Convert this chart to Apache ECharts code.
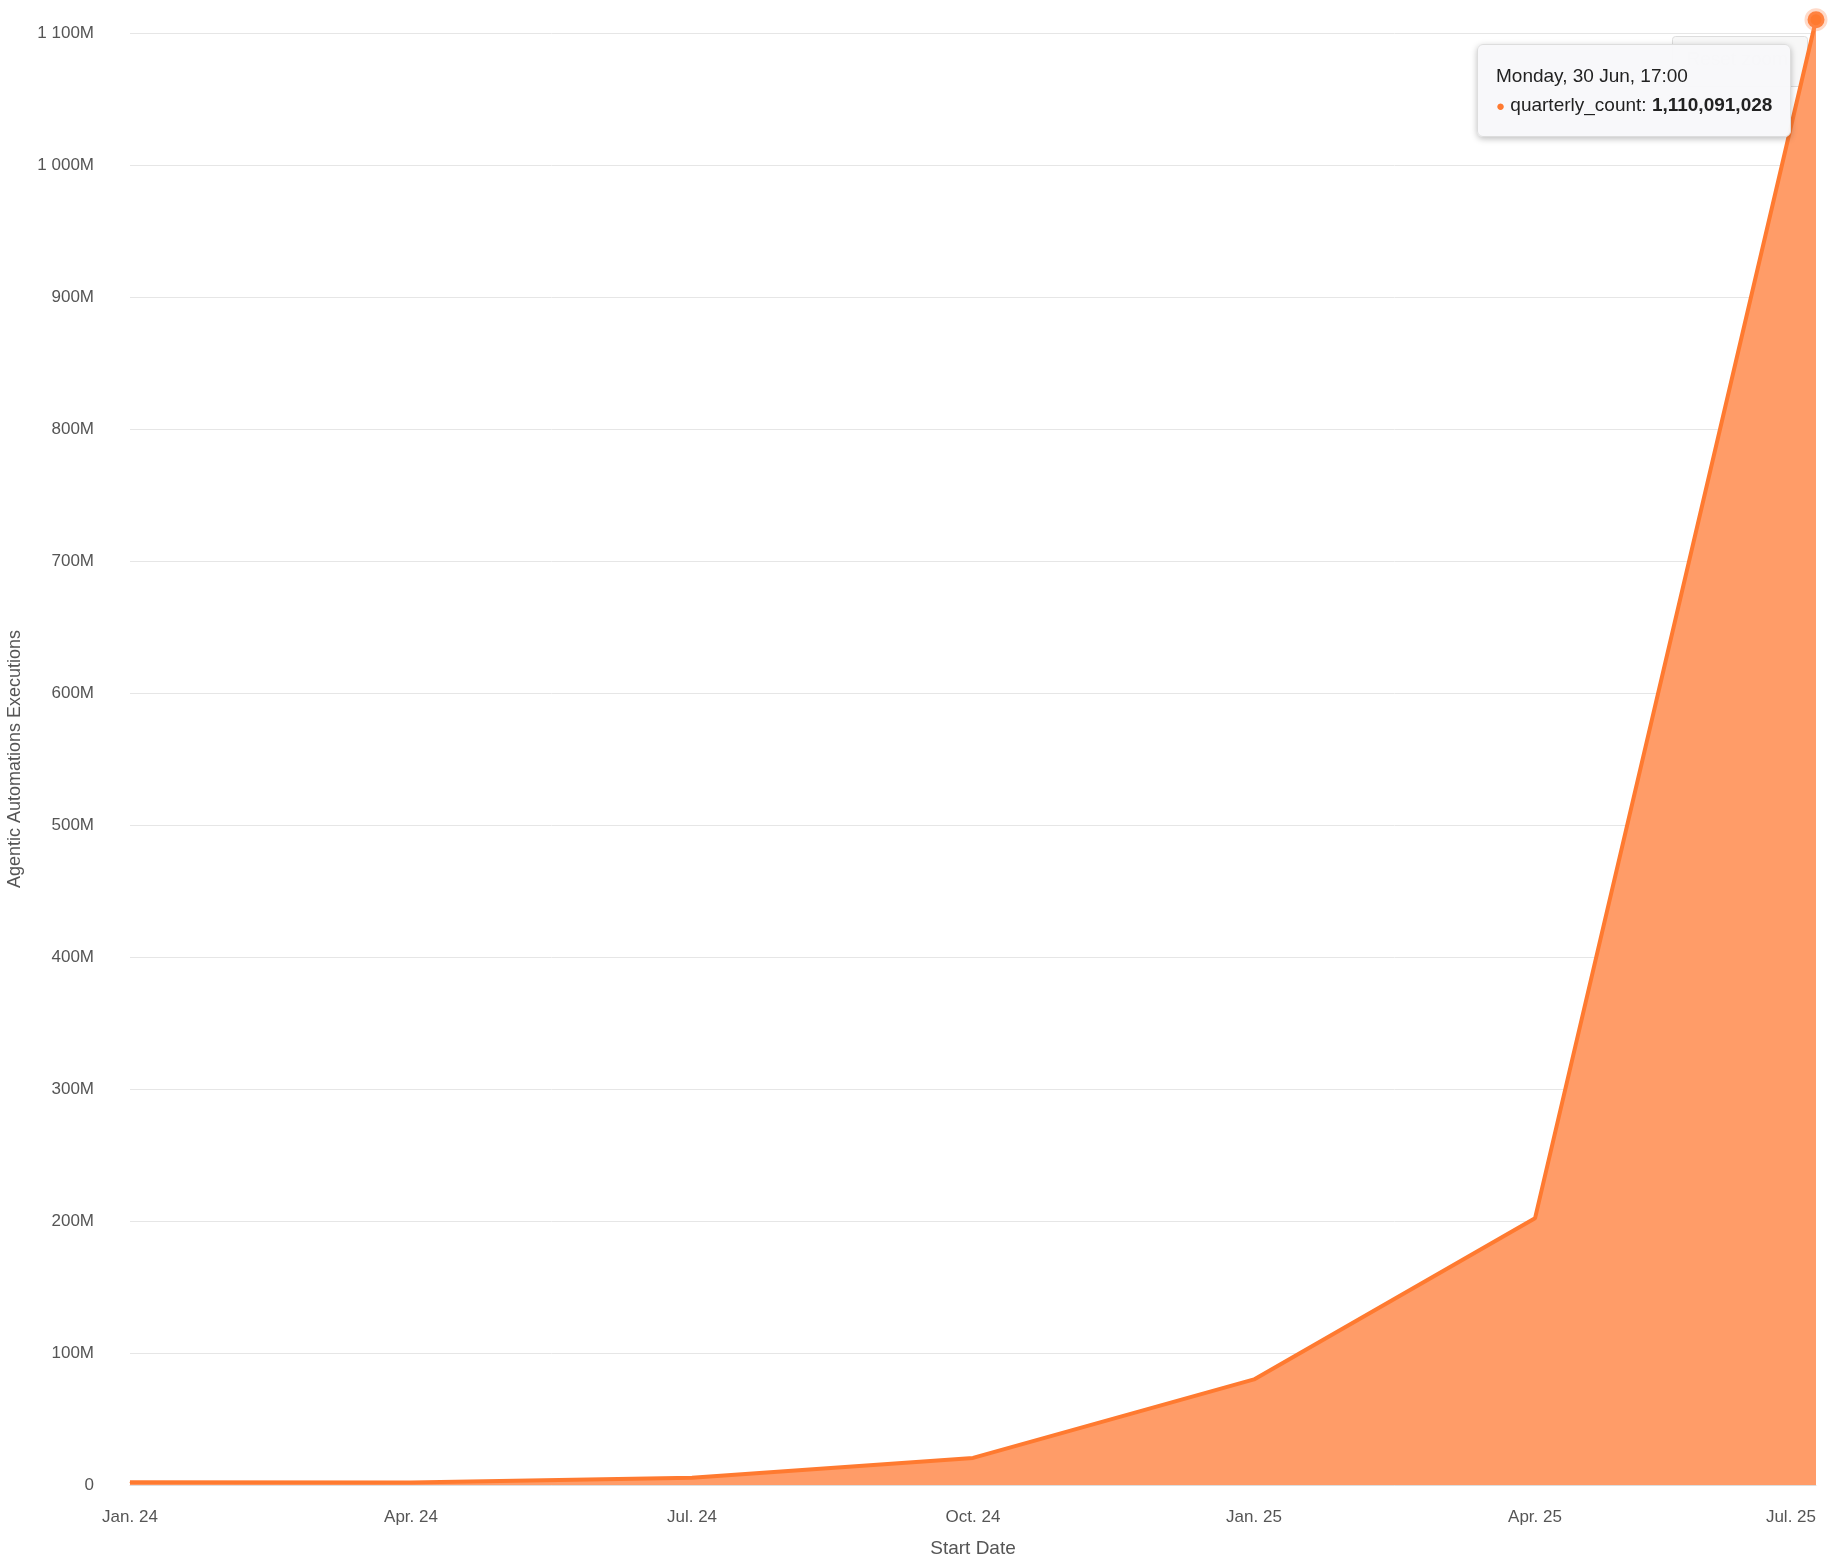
<!DOCTYPE html>
<html><head><meta charset="utf-8">
<script src="https://cdn.jsdelivr.net/npm/echarts@6/dist/echarts.min.js"></script>
<style>html,body{margin:0;padding:0;background:#fff}#main{width:1835px;height:1559px}</style>
</head><body><div id="main"></div>
<script>
const quarters = ["Jan. 24", "Apr. 24", "Jul. 24", "Oct. 24", "Jan. 25", "Apr. 25", "Jul. 25"];
const quarterlyCount = [2100000, 1900000, 5500000, 20500000, 80000000, 202000000, 1110091028];
const tickInterval = 100000000;

let myChart = echarts.init(document.getElementById("main"));
const fmt = (v) => {
  const m = Math.round(v / 1e6);
  if (m === 0) return "0";
  return String(m).replace(/\B(?=(\d{3})+(?!\d))/g, " ") + "M";
};
const font = "'Liberation Sans', Arial, sans-serif";
let options = {
  animation: false,
  textStyle: { fontFamily: font },
  grid: { left: 130, right: 19, top: 33, bottom: 74, containLabel: false, outerBoundsMode: "none" },
  tooltip: {
    trigger: "item",
    alwaysShowContent: true,
    position: [1477, 44],
    backgroundColor: "rgba(248,248,250,0.97)",
    borderColor: "#ddd",
    borderWidth: 1,
    padding: [16, 18],
    extraCssText: "border-radius:6px;box-shadow:0 2px 6px rgba(0,0,0,0.25);",
    textStyle: { fontSize: 19, color: "#222", fontFamily: font },
    formatter: (p) =>
      "Monday, 30 Jun, 17:00<br/>" +
      '<span style="color:#ff7a30;font-size:15px">●</span> quarterly_count: <b>' +
      p.value.toLocaleString("en-US") + "</b>",
  },
  xAxis: {
    type: "category",
    data: quarters,
    boundaryGap: false,
    name: "Start Date",
    nameLocation: "middle",
    nameGap: 54,
    nameTextStyle: { fontSize: 19, color: "#555" },
    axisLine: { lineStyle: { color: "#ddd" } },
    axisTick: { show: false },
    axisLabel: { fontSize: 17, color: "#555", margin: 24, alignMaxLabel: "right" },
  },
  yAxis: {
    type: "value",
    min: 0,
    max: 1100000000,
    interval: tickInterval,
    name: "Agentic Automations Executions",
    nameLocation: "middle",
    nameGap: 106,
    nameTextStyle: { fontSize: 18, color: "#555" },
    axisLabel: { fontSize: 17, color: "#555", formatter: fmt, margin: 36 },
    splitLine: { lineStyle: { color: "#e6e6e6" } },
  },
  graphic: [{
    type: "group", left: 1672, top: 36, z: 0,
    children: [
      { type: "rect", shape: { width: 135, height: 50, r: 3 }, style: { fill: "#f7f7f7", stroke: "#ddd" } },
      { type: "text", left: 14, top: 14, style: { text: "Reset zoom", fontSize: 19, fill: "#ccc", fontFamily: font } },
    ],
  }],
  series: [{
    name: "quarterly_count",
    type: "line",
    clip: false,
    data: quarterlyCount.map((v, i) =>
      i === quarterlyCount.length - 1
        ? { value: v, symbolSize: 17, itemStyle: { color: "#ff7a30", borderColor: "rgba(255,150,100,0.35)", borderWidth: 6 } }
        : v
    ),
    symbol: "circle",
    symbolSize: 1,
    showSymbol: true,
    showAllSymbol: true,
    lineStyle: { color: "#ff7a30", width: 4 },
    itemStyle: { color: "#ff7a30" },
    areaStyle: { color: "#ff9c68", opacity: 1 },
    emphasis: { disabled: true },
    z: 3,
  }],
};
myChart.setOption(options);
setTimeout(() => {
  myChart.dispatchAction({ type: "showTip", seriesIndex: 0, dataIndex: quarterlyCount.length - 1 });
}, 50);
</script></body></html>
